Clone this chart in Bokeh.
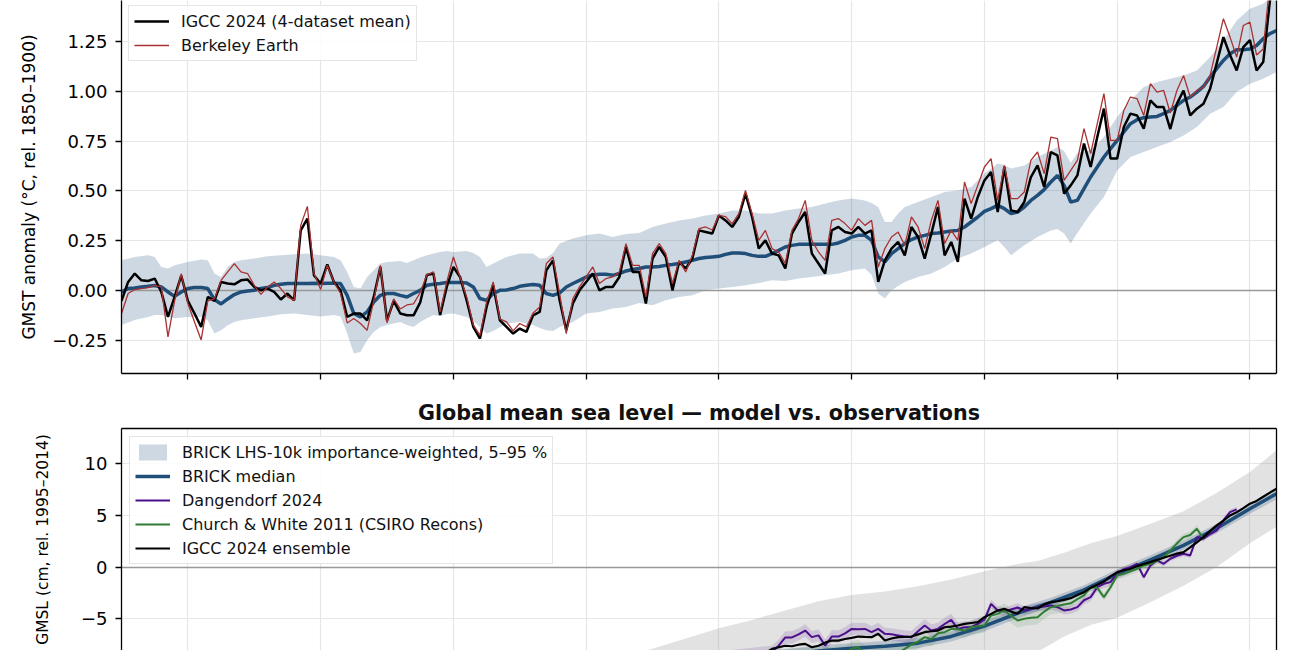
from bokeh.plotting import figure
from bokeh.models import (Range1d, FixedTicker, CustomJSTickFormatter,
                          Legend, LegendItem, LinearAxis)
from bokeh.layouts import column
from bokeh.embed import file_html
from bokeh.resources import INLINE

FONT = "DejaVu Sans"

# ---------------- axis ticks ----------------
X_TICKS = [1860, 1880, 1900, 1920, 1940, 1960, 1980, 2000, 2020]
GMST_TICKS = [-0.25, 0.0, 0.25, 0.5, 0.75, 1.0, 1.25]
GMSL_TICKS = [-10, -5, 0, 5, 10]

# ---------------- GMST panel data (1850-2024) ----------------
years = list(range(1850, 2025))

gmst_igcc = [
    -0.05, 0.045, 0.087, 0.053, 0.05, 0.062, -0.005, -0.13, -0.03, 0.077,
    -0.05, -0.113, -0.18, -0.03, -0.05, 0.045, 0.037, 0.033, 0.053, 0.057,
    0.02, 0.003, 0.012, -0.005, -0.043, -0.013, -0.047, 0.303, 0.362, 0.077,
    0.037, 0.133, 0.045, 0.003, -0.13, -0.113, -0.113, -0.147, -0.03, 0.12,
    -0.147, -0.05, -0.113, -0.122, -0.122, -0.057, 0.08, 0.087, -0.12, 0.02,
    0.12, 0.07, -0.047, -0.18, -0.238, -0.08, 0.028, -0.147, -0.18, -0.213,
    -0.188, -0.205, -0.122, -0.105, 0.103, 0.153, -0.047, -0.197, -0.063, 0.003,
    0.045, 0.087, 0.003, 0.02, 0.02, 0.07, 0.22, 0.095, 0.095, -0.063,
    0.162, 0.22, 0.17, 0.003, 0.145, 0.112, 0.162, 0.303, 0.295, 0.287,
    0.378, 0.353, 0.32, 0.37, 0.487, 0.37, 0.212, 0.253, 0.187, 0.178,
    0.112, 0.287, 0.345, 0.395, 0.187, 0.137, 0.087, 0.303, 0.32, 0.295,
    0.287, 0.32, 0.287, 0.303, 0.045, 0.153, 0.212, 0.245, 0.178, 0.32,
    0.27, 0.162, 0.287, 0.42, 0.178, 0.245, 0.145, 0.462, 0.362, 0.47,
    0.553, 0.595, 0.395, 0.62, 0.403, 0.395, 0.445, 0.57, 0.628, 0.52,
    0.695, 0.678, 0.487, 0.528, 0.578, 0.737, 0.62, 0.77, 0.912, 0.662,
    0.662, 0.82, 0.887, 0.878, 0.812, 0.953, 0.92, 0.92, 0.81, 0.937,
    1.003, 0.878, 0.912, 0.937, 1.012, 1.14, 1.27, 1.18, 1.103, 1.22,
    1.255, 1.103, 1.145, 1.45, 1.55,
]

gmst_berkeley = [
    -0.113, -0.013, 0.007, 0.012, 0.017, 0.028, 0.02, -0.23, -0.05, 0.087,
    -0.063, -0.155, -0.245, -0.05, -0.04, 0.053, 0.095, 0.137, 0.095, 0.087,
    0.028, -0.017, 0.02, 0.045, 0.012, -0.03, -0.047, 0.328, 0.423, 0.087,
    0.007, 0.128, 0.045, -0.013, -0.16, -0.138, -0.163, -0.197, -0.05, 0.128,
    -0.16, -0.04, -0.09, -0.07, -0.065, -0.008, 0.08, 0.095, -0.105, 0.045,
    0.17, 0.07, -0.03, -0.17, -0.222, -0.055, 0.045, -0.14, -0.155, -0.2,
    -0.163, -0.18, -0.11, -0.08, 0.137, 0.17, -0.013, -0.213, -0.038, 0.02,
    0.07, 0.12, 0.037, 0.062, 0.07, 0.095, 0.237, 0.128, 0.128, -0.03,
    0.187, 0.237, 0.187, 0.037, 0.153, 0.095, 0.178, 0.312, 0.32, 0.305,
    0.378, 0.372, 0.337, 0.387, 0.503, 0.387, 0.253, 0.303, 0.212, 0.195,
    0.137, 0.303, 0.362, 0.453, 0.253, 0.195, 0.153, 0.353, 0.362, 0.337,
    0.303, 0.362, 0.328, 0.353, 0.12, 0.212, 0.27, 0.295, 0.228, 0.37,
    0.32, 0.212, 0.353, 0.453, 0.237, 0.303, 0.253, 0.545, 0.437, 0.528,
    0.62, 0.662, 0.453, 0.628, 0.462, 0.462, 0.495, 0.653, 0.695, 0.587,
    0.77, 0.762, 0.553, 0.603, 0.653, 0.812, 0.687, 0.837, 0.987, 0.753,
    0.753, 0.903, 0.97, 0.962, 0.878, 1.037, 0.995, 1.003, 0.89, 1.003,
    1.078, 0.97, 1.003, 1.02, 1.078, 1.22, 1.362, 1.27, 1.17, 1.328,
    1.345, 1.18, 1.21, 1.54, 1.62,
]

gmst_median = [
    -0.005, 0.012, 0.015, 0.02, 0.023, 0.027, 0.02, -0.005, -0.027, -0.005,
    0.012, 0.017, 0.017, 0.012, -0.043, -0.065, -0.04, -0.018, -0.005, 0.0,
    0.003, 0.012, 0.017, 0.028, 0.033, 0.037, 0.037, 0.037, 0.037, 0.038,
    0.037, 0.038, 0.038, 0.037, -0.022, -0.113, -0.13, -0.105, -0.055, -0.022,
    -0.013, -0.013, -0.022, -0.03, -0.013, 0.003, 0.028, 0.033, 0.037, 0.042,
    0.042, 0.042, 0.04, 0.02, -0.038, -0.047, -0.013, 0.003, 0.005, 0.012,
    0.023, 0.028, 0.032, 0.028, -0.013, -0.022, -0.01, 0.02, 0.037, 0.053,
    0.07, 0.08, 0.083, 0.083, 0.078, 0.087, 0.1, 0.107, 0.112, 0.12,
    0.12, 0.122, 0.128, 0.132, 0.137, 0.145, 0.153, 0.162, 0.167, 0.17,
    0.173, 0.183, 0.19, 0.19, 0.187, 0.178, 0.173, 0.173, 0.187, 0.203,
    0.22, 0.228, 0.233, 0.233, 0.233, 0.233, 0.233, 0.233, 0.24, 0.253,
    0.27, 0.278, 0.278, 0.253, 0.17, 0.145, 0.187, 0.212, 0.237, 0.257,
    0.27, 0.278, 0.287, 0.29, 0.295, 0.3, 0.303, 0.32, 0.345, 0.37,
    0.398, 0.412, 0.428, 0.412, 0.387, 0.395, 0.42, 0.453, 0.478, 0.507,
    0.545, 0.578, 0.528, 0.445, 0.453, 0.512, 0.57, 0.62, 0.67, 0.712,
    0.753, 0.795, 0.837, 0.857, 0.867, 0.87, 0.873, 0.887, 0.903, 0.928,
    0.953, 0.97, 0.995, 1.023, 1.07, 1.112, 1.153, 1.187, 1.207, 1.207,
    1.21, 1.228, 1.262, 1.287, 1.303,
]

band_years = [
    1850, 1852, 1854, 1855, 1856, 1857, 1858, 1860, 1862, 1863,
    1864, 1865, 1866, 1867, 1868, 1870, 1872, 1874, 1876, 1878,
    1880, 1882, 1883, 1884, 1885, 1886, 1887, 1888, 1889, 1890,
    1892, 1893, 1894, 1895, 1896, 1897, 1898, 1899, 1900, 1902,
    1903, 1904, 1905, 1906, 1908, 1910, 1912, 1913, 1914, 1915,
    1916, 1918, 1920, 1922, 1924, 1926, 1928, 1930, 1932, 1934,
    1936, 1938, 1940, 1942, 1944, 1946, 1948, 1950, 1952, 1954,
    1956, 1958, 1960, 1962, 1963, 1964, 1965, 1966, 1967, 1968,
    1970, 1972, 1974, 1976, 1978, 1980, 1982, 1983, 1984, 1986,
    1988, 1990, 1991, 1992, 1993, 1994, 1996, 1998, 2000, 2002,
    2004, 2006, 2008, 2010, 2012, 2014, 2016, 2018, 2020, 2022,
    2024,
]
band_lo = [
    -0.17, -0.145, -0.13, -0.12, -0.12, -0.128, -0.137, -0.13, -0.13, -0.147,
    -0.213, -0.197, -0.172, -0.155, -0.147, -0.137, -0.128, -0.117, -0.113, -0.12,
    -0.128, -0.12, -0.128, -0.213, -0.313, -0.305, -0.247, -0.205, -0.18, -0.17,
    -0.155, -0.17, -0.18, -0.155, -0.137, -0.12, -0.125, -0.115, -0.113, -0.13,
    -0.15, -0.18, -0.213, -0.2, -0.163, -0.155, -0.17, -0.185, -0.197, -0.2,
    -0.18, -0.155, -0.113, -0.105, -0.088, -0.08, -0.06, -0.072, -0.047, -0.03,
    -0.022, 0.003, 0.012, 0.02, 0.028, 0.04, 0.053, 0.05, 0.062, 0.07,
    0.078, 0.087, 0.103, 0.112, 0.08, -0.013, -0.038, 0.003, 0.025, 0.045,
    0.07, 0.087, 0.12, 0.162, 0.187, 0.22, 0.253, 0.22, 0.178, 0.228,
    0.27, 0.303, 0.31, 0.287, 0.237, 0.29, 0.387, 0.47, 0.603, 0.67,
    0.695, 0.72, 0.745, 0.778, 0.82, 0.887, 0.92, 0.995, 1.037, 1.062,
    1.095,
]
band_hi = [
    0.153, 0.17, 0.178, 0.17, 0.12, 0.112, 0.128, 0.145, 0.157, 0.153,
    0.087, 0.07, 0.12, 0.145, 0.153, 0.162, 0.173, 0.178, 0.183, 0.187,
    0.178, 0.17, 0.153, 0.095, 0.02, 0.012, 0.07, 0.103, 0.137, 0.145,
    0.15, 0.14, 0.153, 0.167, 0.178, 0.187, 0.195, 0.2, 0.195, 0.2,
    0.19, 0.17, 0.12, 0.137, 0.17, 0.187, 0.187, 0.162, 0.165, 0.19,
    0.237, 0.262, 0.278, 0.287, 0.27, 0.285, 0.29, 0.32, 0.337, 0.353,
    0.362, 0.378, 0.387, 0.403, 0.403, 0.387, 0.387, 0.403, 0.412, 0.42,
    0.437, 0.453, 0.462, 0.453, 0.44, 0.42, 0.345, 0.345, 0.387, 0.42,
    0.445, 0.47, 0.495, 0.503, 0.52, 0.587, 0.637, 0.63, 0.612, 0.628,
    0.67, 0.703, 0.72, 0.70, 0.64, 0.69, 0.703, 0.77, 0.87, 0.953,
    1.02, 1.045, 1.062, 1.078, 1.103, 1.17, 1.253, 1.353, 1.412, 1.437,
    1.49,
]

# ---------------- GMSL panel data (cm, rel. 1995-2014) ----------------
prior_years = [1900, 1910, 1920, 1925, 1930, 1935, 1940, 1945, 1950, 1955,
               1960, 1965, 1970, 1975, 1980, 1985, 1988, 1992, 1996, 2000,
               2005, 2010, 2015, 2020, 2024]
prior_hi = [-11.5, -10.4, -9.2, -8.6, -7.9, -6.9, -5.9, -5.1, -4.2, -3.3,
            -2.7, -2.35, -1.85, -1.2, -0.4, 0.3, 0.6, 1.4, 2.3, 3.0,
            4.2, 5.4, 7.2, 9.2, 11.3]
prior_lo = [-20.0, -19.5, -19.0, -18.5, -18.0, -17.5, -17.0, -16.5, -16.0, -15.5,
            -15.0, -14.5, -14.0, -13.0, -11.5, -9.3, -8.2, -6.7, -5.6, -4.9,
            -3.4, -1.8, 0.0, 2.3, 3.9]

model_years = [1900, 1910, 1920, 1930, 1940, 1945, 1950, 1955, 1960, 1965, 1970,
               1975, 1980, 1985, 1990, 1995, 2000, 2005, 2010, 2015, 2020, 2024]
gmsl_median = [-13.0, -12.0, -11.0, -10.2, -9.3, -8.9, -8.5, -8.1, -7.85, -7.65, -7.35,
               -6.7, -5.7, -4.45, -3.4, -2.2, -0.65, 0.7, 2.1, 3.75, 5.65, 7.1]
gmsl_w_lo = [-13.8, -12.8, -11.8, -10.9, -9.9, -9.5, -9.05, -8.65, -8.35, -8.15, -7.85,
             -7.2, -6.2, -4.95, -3.85, -2.65, -1.1, 0.25, 1.65, 3.3, 5.15, 6.55]
gmsl_w_hi = [-12.2, -11.2, -10.2, -9.5, -8.7, -8.3, -7.95, -7.55, -7.35, -7.15, -6.85,
             -6.2, -5.2, -3.95, -2.95, -1.75, -0.2, 1.15, 2.55, 4.2, 6.15, 7.65]

dang_years = [1900, 1920, 1935, 1945] + list(range(1948, 2019))
dang_vals = [
    -12.3, -10.8, -9.4, -8.6,
    -8.2, -7.6, -6.8, -6.8, -6.5, -6.13, -6.77, -6.6, -7.58, -6.71,
    -6.71, -6.4, -5.97, -6.0, -5.97, -6.29, -5.97, -6.45, -6.5, -6.6,
    -6.7, -6.77, -6.2, -5.64, -6.13, -5.97, -5.5, -5.1, -5.97, -5.81,
    -5.81, -5.5, -5.09, -3.55, -4.19, -4.3, -4.1, -3.9, -4.19, -4.03,
    -3.9, -3.8, -3.71, -3.87, -4.19, -4.1, -3.87, -3.2, -2.9, -1.94,
    -1.61, -1.45, -0.6, -0.2, 0.0, 0.32, -0.97, 0.16, 0.65, 0.32,
    0.81, 1.1, 1.29, 1.13, 2.9, 2.74, 3.2, 3.55, 4.52, 5.32, 5.58,
]
dang_unc = [
    1.2, 1.0, 0.9, 0.8,
    0.6, 0.6, 0.6, 0.6, 0.6, 0.6, 0.6, 0.6, 0.6, 0.6,
    0.6, 0.6, 0.6, 0.6, 0.6, 0.6, 0.6, 0.6, 0.6, 0.6,
    0.6, 0.6, 0.6, 0.6, 0.6, 0.6, 0.6, 0.6, 0.6, 0.6,
    0.6, 0.6, 0.4, 0.4, 0.4, 0.4, 0.4, 0.4, 0.4, 0.4,
    0.4, 0.4, 0.4, 0.4, 0.4, 0.4, 0.4, 0.4, 0.4, 0.4,
    0.4, 0.4, 0.25, 0.25, 0.25, 0.25, 0.25, 0.25, 0.25, 0.25,
    0.25, 0.25, 0.25, 0.25, 0.25, 0.25, 0.25, 0.25, 0.25, 0.25, 0.25,
]

cw_years = [1900, 1920, 1940, 1950, 1955, 1958] + list(range(1959, 2014))
cw_vals = [
    -12.8, -11.0, -9.5, -8.9, -8.7, -8.6,
    -8.3, -7.9, -7.75, -8.3, -8.5, -8.6, -8.5, -8.4, -8.3, -7.9,
    -7.5, -7.2, -6.77, -6.94, -6.4, -6.29, -5.97, -6.0, -6.13, -5.81,
    -5.7, -5.64, -4.68, -4.52, -4.19, -4.7, -5.16, -5.0, -4.9, -4.84,
    -4.3, -3.87, -3.75, -3.62, -3.5, -3.1, -2.74, -1.94, -2.0, -2.9,
    -1.94, -0.81, -0.65, -0.4, -0.16, 0.16, 0.3, 0.6, 0.97, 1.6,
    2.3, 2.9, 3.1, 3.71, 2.74,
]
cw_unc = [
    1.5, 1.3, 1.1, 1.0, 0.9, 0.9,
    0.7, 0.7, 0.7, 0.7, 0.7, 0.7, 0.7, 0.7, 0.7, 0.7,
    0.7, 0.7, 0.7, 0.7, 0.7, 0.7, 0.7, 0.7, 0.7, 0.7,
    0.7, 0.7, 0.7, 0.7, 0.7, 0.7, 0.7, 0.7, 0.7, 0.7,
    0.7, 0.7, 0.7, 0.7, 0.35, 0.35, 0.35, 0.35, 0.35, 0.35,
    0.35, 0.35, 0.35, 0.35, 0.35, 0.35, 0.35, 0.35, 0.35, 0.35,
    0.35, 0.35, 0.35, 0.35, 0.35,
]

igcc_sl_years = [1900, 1920, 1940, 1945] + list(range(1947, 2025))
igcc_sl_vals = [
    -12.5, -10.6, -9.0, -8.5,
    -8.3, -7.9, -7.75, -7.6, -7.65, -7.5, -7.42, -7.75, -7.6, -7.3,
    -7.1, -7.1, -6.95, -6.84, -6.71, -6.75, -6.77, -6.45, -7.1, -6.9,
    -6.77, -6.75, -6.71, -6.5, -6.29, -6.2, -6.13, -5.81, -5.75, -5.64,
    -5.48, -5.4, -5.32, -4.84, -4.52, -4.19, -4.03, -4.3, -4.51, -3.87,
    -3.95, -4.0, -3.6, -3.39, -3.3, -3.16, -3.0, -2.7, -2.42, -2.0,
    -1.7, -1.4, -0.9, -0.48, -0.3, -0.16, 0.1, 0.3, 0.48, 0.7,
    0.9, 1.1, 1.3, 1.45, 1.9, 2.4, 2.9, 3.5, 4.03, 4.5,
    5.0, 5.3, 5.7, 6.13, 6.4, 6.8, 7.2, 7.58,
]

# ---------------- colours ----------------
C_BRICK = "#1f4e79"
C_BERK = "#a83232"
C_DANG = "#4b0f8c"
C_CW = "#2e7d32"


def style_axis(ax, label_standoff, label_size="17px"):
    ax.axis_line_color = "black"
    ax.axis_line_width = 1.3
    ax.major_tick_line_color = "black"
    ax.major_tick_line_width = 1.3
    ax.major_tick_out = 6
    ax.major_tick_in = 0
    ax.minor_tick_line_color = None
    ax.major_label_text_font = FONT
    ax.major_label_text_font_size = "18px"
    ax.major_label_text_color = "black"
    ax.major_label_standoff = 8
    ax.axis_label_text_font = FONT
    ax.axis_label_text_font_size = label_size
    ax.axis_label_text_font_style = "normal"
    ax.axis_label_text_color = "black"
    ax.axis_label_standoff = label_standoff


def spine_axis():
    return LinearAxis(ticker=FixedTicker(ticks=[]), major_tick_line_color=None,
                      minor_tick_line_color=None, axis_line_color="black",
                      axis_line_width=1.3, major_label_standoff=0,
                      major_label_text_font_size="10px")


def style_grid(p):
    p.xgrid.ticker = FixedTicker(ticks=X_TICKS)
    p.xgrid.grid_line_color = "#e6e6e6"
    p.ygrid.grid_line_color = "#e6e6e6"
    p.xgrid.grid_line_width = 1.2
    p.ygrid.grid_line_width = 1.2


def style_legend(leg):
    leg.label_text_font = FONT
    leg.label_text_font_size = "16px"
    leg.label_text_color = "#111111"
    leg.glyph_width = 35
    leg.glyph_height = 20
    leg.label_height = 20
    leg.label_standoff = 12
    leg.padding = 5
    leg.spacing = 4
    leg.margin = 0
    leg.border_line_color = "#cccccc"
    leg.border_line_width = 1
    leg.background_fill_color = "white"
    leg.background_fill_alpha = 0.85


# ================= top panel: GMST =================
p1 = figure(frame_width=1155, frame_height=373,
            x_range=Range1d(1850, 2024), y_range=Range1d(-0.413, 1.453),
            output_backend="svg", toolbar_location=None,
            min_border_left=121, min_border_right=24,
            min_border_top=0, min_border_bottom=12,
            outline_line_color=None,
            background_fill_color="white", border_fill_color="white")
style_grid(p1)
p1.xaxis.ticker = FixedTicker(ticks=X_TICKS)
p1.xaxis.formatter = CustomJSTickFormatter(code="return '';")
style_axis(p1.xaxis[0], 0)
p1.xaxis.major_label_standoff = 0
p1.yaxis.ticker = FixedTicker(ticks=GMST_TICKS)
p1.yaxis.formatter = CustomJSTickFormatter(
    code="return tick.toFixed(2).replace('-', '\u2212');")
p1.yaxis.axis_label = "GMST anomaly (°C, rel. 1850–1900)"
style_axis(p1.yaxis[0], 10)
p1.add_layout(spine_axis(), "right")

r_band1 = p1.varea(x=band_years, y1=band_lo, y2=band_hi,
                   fill_color=C_BRICK, fill_alpha=0.22)
p1.hspan(y=[0], line_color="#999999", line_width=1.5)
r_med1 = p1.line(years, gmst_median, line_color=C_BRICK, line_width=3.5)
r_igcc1 = p1.line(years, gmst_igcc, line_color="black", line_width=2.5)
r_be1 = p1.line(years, gmst_berkeley, line_color=C_BERK, line_width=1.3)

leg1 = Legend(items=[
    LegendItem(label="IGCC 2024 (4-dataset mean)", renderers=[r_igcc1]),
    LegendItem(label="Berkeley Earth", renderers=[r_be1]),
], location=(7, 312))
style_legend(leg1)
p1.add_layout(leg1)

# ================= bottom panel: GMSL =================
p2 = figure(frame_width=1155, frame_height=222,
            x_range=Range1d(1850, 2024), y_range=Range1d(-8.06, 13.4),
            x_axis_location=None,
            output_backend="svg", toolbar_location=None,
            min_border_left=121, min_border_right=24,
            min_border_top=43, min_border_bottom=0,
            outline_line_color=None,
            background_fill_color="white", border_fill_color="white",
            title="Global mean sea level — model vs. observations")
p2.title.align = "center"
p2.title.text_font = FONT
p2.title.text_font_size = "20.7px"
p2.title.text_font_style = "bold"
p2.title.text_color = "#111111"
p2.title.standoff = 8
style_grid(p2)
p2.yaxis.ticker = FixedTicker(ticks=GMSL_TICKS)
p2.yaxis.formatter = CustomJSTickFormatter(
    code="return tick.toFixed(0).replace('-', '\u2212');")
p2.yaxis.axis_label = "GMSL (cm, rel. 1995–2014)"
style_axis(p2.yaxis[0], 26, "15.5px")
p2.add_layout(spine_axis(), "right")
p2.add_layout(spine_axis(), "above")

dang_lo = [v - u for v, u in zip(dang_vals, dang_unc)]
dang_hi = [v + u for v, u in zip(dang_vals, dang_unc)]
cw_lo = [v - u for v, u in zip(cw_vals, cw_unc)]
cw_hi = [v + u for v, u in zip(cw_vals, cw_unc)]

p2.varea(x=prior_years, y1=prior_lo, y2=prior_hi, fill_color="#9e9e9e", fill_alpha=0.3)
r_band2 = p2.varea(x=model_years, y1=gmsl_w_lo, y2=gmsl_w_hi,
                   fill_color=C_BRICK, fill_alpha=0.22)
p2.hspan(y=[0], line_color="#999999", line_width=1.5)
p2.varea(x=dang_years, y1=dang_lo, y2=dang_hi, fill_color=C_DANG, fill_alpha=0.14)
p2.varea(x=cw_years, y1=cw_lo, y2=cw_hi, fill_color=C_CW, fill_alpha=0.12)
r_med2 = p2.line(model_years, gmsl_median, line_color=C_BRICK, line_width=3.5)
r_dang = p2.line(dang_years, dang_vals, line_color=C_DANG, line_width=2)
r_cw = p2.line(cw_years, cw_vals, line_color=C_CW, line_width=2)
r_igcc2 = p2.line(igcc_sl_years, igcc_sl_vals, line_color="black", line_width=2.2)

leg2 = Legend(items=[
    LegendItem(label="BRICK LHS-10k importance-weighted, 5–95 %", renderers=[r_band2]),
    LegendItem(label="BRICK median", renderers=[r_med2]),
    LegendItem(label="Dangendorf 2024", renderers=[r_dang]),
    LegendItem(label="Church & White 2011 (CSIRO Recons)", renderers=[r_cw]),
    LegendItem(label="IGCC 2024 ensemble", renderers=[r_igcc2]),
], location=(8, 86))
style_legend(leg2)
p2.add_layout(leg2)

layout = column(p1, p2)
open("out.html", "w").write(file_html(layout, INLINE))
